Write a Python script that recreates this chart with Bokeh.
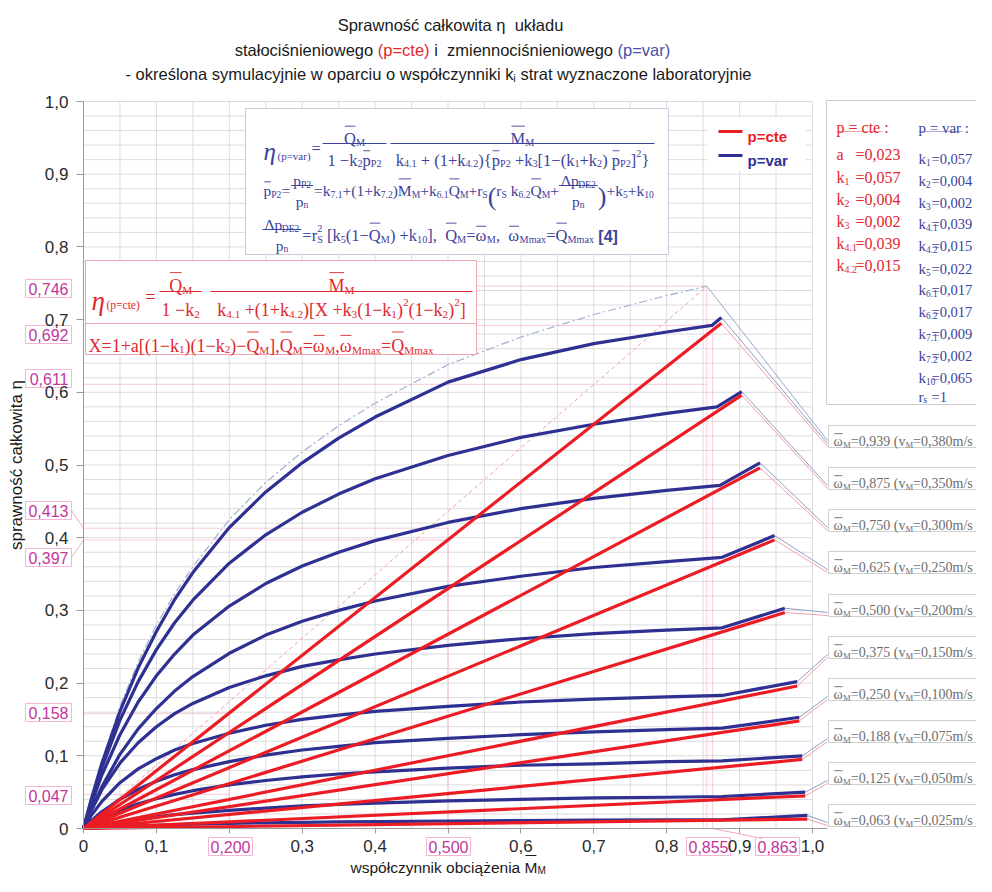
from bokeh.plotting import figure
from bokeh.models import ColumnDataSource, FixedTicker, Range1d
from bokeh.core.properties import value
from bokeh.embed import file_html
from bokeh.resources import INLINE

# ---------------- values ----------------
M_GRID = [0.0, 0.01, 0.025, 0.05, 0.075, 0.10, 0.125, 0.15, 0.20, 0.25, 0.30, 0.35, 0.40, 0.50, 0.60, 0.70, 0.80]

OMEGA_LABELS = ["0,939", "0,875", "0,750", "0,625", "0,500", "0,375", "0,250", "0,188", "0,125", "0,063"]
VM_LABELS = ["0,380", "0,350", "0,300", "0,250", "0,200", "0,150", "0,100", "0,075", "0,050", "0,025"]

# p=var efficiency at M_GRID, one list per omega
ETA_VAR_0939 = [0, 0.038, 0.089, 0.161, 0.221, 0.271, 0.315, 0.352, 0.414, 0.463, 0.503, 0.537, 0.566, 0.614, 0.645, 0.667, 0.683]
ETA_VAR_0875 = [0, 0.036, 0.083, 0.149, 0.202, 0.246, 0.283, 0.314, 0.365, 0.404, 0.435, 0.460, 0.481, 0.513, 0.538, 0.556, 0.571]
ETA_VAR_0750 = [0, 0.032, 0.073, 0.129, 0.174, 0.210, 0.240, 0.266, 0.306, 0.337, 0.361, 0.380, 0.396, 0.421, 0.440, 0.454, 0.465]
ETA_VAR_0625 = [0, 0.025, 0.057, 0.102, 0.137, 0.165, 0.189, 0.209, 0.241, 0.266, 0.285, 0.300, 0.313, 0.333, 0.347, 0.359, 0.367]
ETA_VAR_0500 = [0, 0.023, 0.053, 0.090, 0.118, 0.140, 0.158, 0.172, 0.194, 0.210, 0.223, 0.232, 0.240, 0.252, 0.261, 0.268, 0.273]
ETA_VAR_0375 = [0, 0.017, 0.037, 0.063, 0.082, 0.096, 0.108, 0.117, 0.131, 0.142, 0.150, 0.156, 0.161, 0.168, 0.174, 0.178, 0.181]
ETA_VAR_0250 = [0, 0.010, 0.023, 0.040, 0.054, 0.065, 0.074, 0.081, 0.092, 0.101, 0.108, 0.113, 0.118, 0.124, 0.129, 0.133, 0.136]
ETA_VAR_0188 = [0, 0.006, 0.014, 0.025, 0.034, 0.041, 0.047, 0.052, 0.060, 0.066, 0.071, 0.075, 0.078, 0.083, 0.087, 0.089, 0.092]
ETA_VAR_0125 = [0, 0.002, 0.005, 0.009, 0.013, 0.016, 0.019, 0.021, 0.025, 0.028, 0.031, 0.033, 0.035, 0.038, 0.040, 0.042, 0.043]
ETA_VAR_0063 = [0, 0.0005, 0.0013, 0.0025, 0.0035, 0.0045, 0.0052, 0.006, 0.007, 0.0078, 0.0085, 0.009, 0.0095, 0.0103, 0.0109, 0.0114, 0.0118]
ETA_VAR = [ETA_VAR_0939, ETA_VAR_0875, ETA_VAR_0750, ETA_VAR_0625, ETA_VAR_0500,
           ETA_VAR_0375, ETA_VAR_0250, ETA_VAR_0188, ETA_VAR_0125, ETA_VAR_0063]

KINK_M = [0.862, 0.869, 0.873, 0.876, 0.876, 0.876, 0.876, 0.876, 0.876, 0.876]
KINK_ETA_VAR = [0.692, 0.580, 0.472, 0.373, 0.276, 0.183, 0.138, 0.093, 0.044, 0.012]
END_M = [0.875, 0.903, 0.928, 0.948, 0.962, 0.979, 0.982, 0.986, 0.990, 0.993]
END_ETA_VAR = [0.703, 0.601, 0.503, 0.403, 0.303, 0.202, 0.153, 0.100, 0.050, 0.018]
END_ETA_CTE = [0.695, 0.596, 0.496, 0.397, 0.297, 0.196, 0.148, 0.095, 0.045, 0.013]

ENVELOPE_M = M_GRID + [0.855]
ENVELOPE_ETA = [0, 0.040, 0.093, 0.168, 0.229, 0.280, 0.323, 0.360, 0.425, 0.476, 0.518, 0.554, 0.585, 0.638, 0.676, 0.707, 0.733, 0.746]

MARK_Y_VALUES = [0.746, 0.692, 0.611, 0.413, 0.397, 0.158, 0.047]
MARK_Y_LABELS = ["0,746", "0,692", "0,611", "0,413", "0,397", "0,158", "0,047"]
MARK_X_VALUES = [0.200, 0.500, 0.855, 0.863]
MARK_X_LABELS = ["0,200", "0,500", "0,855", "0,863"]

X_TICKS = [0.0, 0.1, 0.2, 0.3, 0.4, 0.5, 0.6, 0.7, 0.8, 0.9, 1.0]
X_TICK_LABELS = ["0", "0,1", "", "0,3", "0,4", "", "0,6", "0,7", "0,8", "0,9", "1,0"]
Y_TICKS = [0.0, 0.1, 0.2, 0.3, 0.4, 0.5, 0.6, 0.7, 0.8, 0.9, 1.0]
Y_TICK_LABELS = ["0", "0,1", "0,2", "0,3", "0,4", "0,5", "0,6", "0,7", "0,8", "0,9", "1,0"]

CTE_NAMES = ["a", "k_{1}", "k_{2}", "k_{3}", "k_{4.1}", "k_{4.2}"]
CTE_VALUES = ["=0,023", "=0,057", "=0,004", "=0,002", "=0,039", "=0,015"]
VAR_NAMES = ["k_{1}", "k_{2}", "k_{3}", "k_{4.1}", "k_{4.2}", "k_{5}", "k_{6.1}", "k_{6.2}",
             "k_{7.1}", "k_{7.2}", "k_{10}", "r_{s}"]
VAR_VALUES = ["=0,057", "=0,004", "=0,002", "=0,039", "=0,015", "=0,022", "=0,017", "=0,017",
              "=0,009", "=0,002", "=0,065", "=1"]

# ---------------- layout helpers (picture pixels -> data) ----------------
X0, Y0, SX, SY = 83.0, 828.0, 729.0, 727.0
W, H = 976, 876


def DX(px):
    return (px - X0) / SX


def DY(py):
    return (Y0 - py) / SY


SERIF = "Liberation Serif"
SANS = "Liberation Sans"
BLUE = "#2e3192"
RED = "#ec1c24"
BLUE_F = "#3b4299"
RED_F = "#e0282e"
PINK = "#c2379a"
GREY_T = "#6e6e6e"
INK = "#1a1a1a"

TNR = {" ": 250, "(": 333, ")": 333, "[": 333, "]": 333, "{": 480, "}": 480, "+": 564, "=": 564,
       "\u2212": 564, "-": 333, ",": 250, ".": 250, ":": 278, "/": 278, "\u0394": 612,
       "\u03b7": 500, "\u03c9": 686}
for ch in "0123456789":
    TNR[ch] = 500
for ch, w in zip("abcdefghijklmnopqrstuvwxyz",
                 [444, 500, 444, 500, 444, 333, 500, 500, 278, 278, 500, 278, 778, 500, 500, 500, 500,
                  333, 389, 278, 500, 500, 722, 500, 500, 444]):
    TNR[ch] = w
for ch, w in zip("ABCDEFGHIJKLMNOPQRSTUVWXYZ",
                 [722, 667, 667, 722, 611, 556, 722, 722, 333, 389, 722, 611, 889, 722, 722, 556, 722,
                  667, 556, 611, 722, 722, 944, 722, 722, 611]):
    TNR[ch] = w

ARIAL = {" ": 278, "(": 333, ")": 333, "=": 584, "-": 333, ",": 278, "\u03b7": 556,
         "ą": 556, "ć": 500, "ę": 556, "ł": 222, "ń": 556, "ó": 556, "ś": 500, "ż": 500, "S": 667, "M": 833}
for ch in "0123456789":
    ARIAL[ch] = 556
for ch, w in zip("abcdefghijklmnopqrstuvwxyz",
                 [556, 556, 500, 556, 556, 278, 556, 556, 222, 222, 500, 222, 833, 556, 556, 556, 556,
                  333, 500, 278, 556, 500, 722, 500, 500, 500]):
    ARIAL[ch] = w


def tw(s, fs, table=TNR):
    return sum(table.get(ch, 500) for ch in s) * fs / 1000.0


TXT = []
LNS = []


def add_text(px, py, s, fs, col, font=SERIF, style="normal", align="left", base="alphabetic"):
    # SVG drops leading/trailing blanks and merges runs of blanks: keep the spacing explicitly
    if align == "left":
        core = s.lstrip(" ")
        lead = len(s) - len(core)
        px += lead * (278 if font == SANS else 250) * fs / 1000.0
        s = core
    s = s.strip(" ").replace("  ", " \u00a0")
    if not s:
        return
    TXT.append((DX(px), DY(py), s, "%.1fpx" % fs, col, font, style, align, base))


def add_line(px0, py0, px1, py1, col, lw=1.0):
    LNS.append((DX(px0), DY(py0), DX(px1), DY(py1), col, lw))


def parse(m):
    segs, buf, i = [], "", 0
    kinds = {"_": "s", "^": "p", "#": "o"}
    while i < len(m):
        c = m[i]
        if c in kinds and i + 1 < len(m) and m[i + 1] == "{":
            if buf:
                segs.append((buf, "n"))
                buf = ""
            j = m.index("}", i + 2)
            segs.append((m[i + 2:j], kinds[c]))
            i = j + 1
        else:
            buf += c
            i += 1
    if buf:
        segs.append((buf, "n"))
    return segs


def layout(markup, size):
    items, x, prev = [], 0.0, None
    for t, k in parse(markup):
        fs = size * 0.62 if k in "sp" else size
        w = tw(t, fs)
        if k == "p" and prev is not None and prev[0] == "s":
            xs, ws = prev[1], prev[2]
            items.append((t, k, xs, fs, w))
            x = xs + max(w, ws)
        else:
            items.append((t, k, x, fs, w))
            x += w
        prev = (k, items[-1][2], w)
    return items, x


def rich(px, py, markup, size, col, align="left", style="normal"):
    items, total = layout(markup, size)
    off = px - total / 2.0 if align == "center" else px
    for t, k, xx, fs, w in items:
        if k == "s":
            yy = py + size * 0.24
        elif k == "p":
            yy = py - size * 0.42
        else:
            yy = py
        add_text(off + xx, yy, t, fs, col, style=style)
        if k == "o":
            hgt = 0.56 if t.islower() else 0.75
            add_line(off + xx + 0.8, py - size * hgt, off + xx + w - 0.5, py - size * hgt, col, 0.9)
    return total


def frac(xl, bar_py, num, den, size, col, width=None, dn=1.0):
    wn = layout(num, size)[1]
    wd = layout(den, size)[1]
    w = width if width else max(wn, wd) + 4
    cx = xl + w / 2.0
    add_line(xl, bar_py, xl + w, bar_py, col, 1.0)
    rich(cx, bar_py - size * 0.3, num, size, col, align="center")
    rich(cx, bar_py + size * dn, den, size, col, align="center")
    return w


# ---------------- figure: the frame fills the whole canvas ----------------
p = figure(width=W, height=H, x_range=Range1d(DX(0), DX(W)), y_range=Range1d(DY(H), DY(0)),
           output_backend="svg", toolbar_location=None,
           min_border_left=0, min_border_right=0, min_border_top=0, min_border_bottom=0)
p.outline_line_color = None
p.background_fill_color = "white"
p.border_fill_color = "white"
p.xgrid.grid_line_color = None
p.ygrid.grid_line_color = None

for ax, ticks, labels in ((p.xaxis[0], X_TICKS, X_TICK_LABELS), (p.yaxis[0], Y_TICKS, Y_TICK_LABELS)):
    ax.fixed_location = 0
    ax.ticker = FixedTicker(ticks=ticks, minor_ticks=[])
    ax.major_label_overrides = {t: l for t, l in zip(ticks, labels)}
    ax.axis_line_color = "#9a9a9a"
    ax.major_tick_line_color = "#9a9a9a"
    ax.minor_tick_line_color = None
    ax.major_label_text_font = SANS
    ax.major_label_text_font_size = "17px"
    ax.major_label_text_color = "#2a2a2a"
    ax.major_tick_in = 0
p.xaxis[0].bounds = (0, 1.02)
p.yaxis[0].bounds = (0, 1.0)
p.xaxis[0].major_tick_out = 5
p.xaxis[0].major_label_standoff = 6
p.yaxis[0].major_tick_out = 7
p.yaxis[0].major_label_standoff = 8
p.yaxis[0].axis_label = "sprawność całkowita η"
p.yaxis[0].axis_label_text_font = SANS
p.yaxis[0].axis_label_text_font_size = "17px"
p.yaxis[0].axis_label_text_font_style = "normal"
p.yaxis[0].axis_label_text_color = INK
p.yaxis[0].axis_label_standoff = 16

# grid
gx0, gy0, gx1, gy1 = [], [], [], []
for k in range(1, 21):
    gx0.append(k * 0.05); gx1.append(k * 0.05); gy0.append(0); gy1.append(1.0)
for k in range(1, 51):
    gx0.append(0); gx1.append(1.0); gy0.append(k * 0.02); gy1.append(k * 0.02)
p.segment(gx0, gy0, gx1, gy1, line_color="#dcdcdc", line_width=1)

# pink reference lines
mx, my = MARK_X_VALUES, MARK_Y_VALUES
rx0 = [0, mx[2], 0, mx[3], 0, 0, 0, mx[1], 0, 0, mx[0]]
ry0 = [my[0], 0, my[1], 0, my[2], my[3], my[4], 0, my[5], my[6], 0]
rx1 = [mx[2], mx[2], mx[3], mx[3], mx[2], mx[1], mx[1], mx[1], mx[0], mx[0], mx[0]]
ry1 = [my[0], my[0], my[1], my[1], my[2], my[3], my[4], my[3], my[5], my[6], my[5]]
p.segment(rx0, ry0, rx1, ry1, line_color="#f1a9c3", line_width=1, line_alpha=0.6)

# envelope and diagonal to the optimum
p.line(ENVELOPE_M, ENVELOPE_ETA, line_color="#9fb0d2", line_width=1.2, line_dash="8 3 2 3")
p.line([0, mx[2]], [0, my[0]], line_color="#f2a0b4", line_width=1, line_dash="4 3")


def box(l, t, r, b, line, fill="white"):
    p.quad(left=DX(l), right=DX(r), top=DY(t), bottom=DY(b), fill_color=fill, line_color=line, line_width=1)


box(245, 108, 668, 254, "#c9cbdc")       # p=var formula
box(85, 260, 476, 354, "#f3a5ad")        # p=cte formula
add_line(85, 323, 476, 323, "#f3a5ad", 1.0)
box(707, 117, 805, 170, None)            # legend
box(826, 100, 1000, 404, "#cccccc")      # coefficient panel

# curves
for i in range(len(ETA_VAR)):
    p.line(M_GRID + [KINK_M[i], END_M[i]], ETA_VAR[i] + [KINK_ETA_VAR[i], END_ETA_VAR[i]],
           line_color=BLUE, line_width=3.2, line_join="round")
for i in range(len(ETA_VAR)):
    p.line([0, END_M[i]], [0, END_ETA_CTE[i]], line_color=RED, line_width=3.2)

# leader lines to the omega boxes
BOX_CY = [436, 478, 520, 562, 605, 647, 689, 731, 773, 815]
lx0, ly0, lx1, ly1, lc = [], [], [], [], []
for i in range(len(BOX_CY)):
    lx0 += [END_M[i], END_M[i]]
    ly0 += [END_ETA_VAR[i], END_ETA_CTE[i]]
    lx1 += [DX(827), DX(827)]
    ly1 += [DY(BOX_CY[i] + 7), DY(BOX_CY[i] + 10)]
    lc += ["#8f9fc9", "#f0a0ae"]
lx0.append(mx[2]); ly0.append(my[0]); lx1.append(DX(827)); ly1.append(DY(BOX_CY[0] + 4)); lc.append("#9aa6c8")
p.segment(lx0, ly0, lx1, ly1, line_color=lc, line_width=1)

for i in range(len(BOX_CY)):
    box(828, BOX_CY[i] - 11, 1000, BOX_CY[i] + 11, "#cfcfcf")
    rich(833, BOX_CY[i] + 5, "#{\u03c9}_{M}=" + OMEGA_LABELS[i] + " (v_{M}=" + VM_LABELS[i] + "m/s",
         14, GREY_T)

# legend
add_line(718, 131, 742, 131, RED, 3)
add_line(718, 155, 742, 155, BLUE, 3)
add_text(747, 136, "p=cte", 15, RED, font=SANS, style="bold")
add_text(747, 160, "p=var", 15, BLUE, font=SANS, style="bold")

# ---- p=var formula ----
add_text(263, 151, "\u03b7", 25, BLUE_F, style="italic")
add_text(277, 155, "(p=var)", 11, BLUE_F)
add_text(311, 148, "=", 16.5, BLUE_F)
frac(322, 143, "#{Q}_{M}", "1 \u2212k_{2}#{p}_{P2}", 16.5, BLUE_F, width=64)
frac(390, 143, "#{M}_{M}",
     "k_{4.1} + (1+k_{4.2}){#{p}_{P2} +k_{3}[1\u2212(k_{1}+k_{2}) #{p}_{P2}]^{2}}", 16.5, BLUE_F, width=264)

x = 263
x += rich(x, 190, "#{p}_{P2}=", 15.5, BLUE_F) + 1
x += frac(x, 185, "p_{P2}", "p_{n}", 15.5, BLUE_F) + 1
x += rich(x, 190, "=k_{7.1}+(1+k_{7.2})#{M}_{M}+k_{6.1}#{Q}_{M}+r_{S}", 15.5, BLUE_F)
add_text(x, 196, "(", 26, BLUE_F)
x += tw("(", 26)
x += rich(x, 190, "r_{S} k_{6.2}#{Q}_{M}+", 15.5, BLUE_F)
x += frac(x, 185, "\u0394p_{DE2}", "p_{n}", 15.5, BLUE_F)
add_text(x, 196, ")", 26, BLUE_F)
x += tw(")", 26)
rich(x, 190, "+k_{5}+k_{10}", 15.5, BLUE_F)

x = 262
x += frac(x, 229, "\u0394p_{DE2}", "p_{n}", 15.5, BLUE_F) + 1
x += rich(x, 235, "=r_{S}^{2} [k_{5}(1\u2212#{Q}_{M}) +k_{10}],  #{Q}_{M}=#{\u03c9}_{M},  #{\u03c9}_{Mmax}=#{Q}_{Mmax} ",
          16.5, BLUE_F)
add_text(x, 236, "[4]", 16, BLUE_F, font=SANS, style="bold")

# ---- p=cte formula ----
add_text(91, 300, "\u03b7", 27, RED_F, style="italic")
add_text(106, 304, "(p=cte)", 11.5, RED_F)
add_text(145, 296, "=", 18, RED_F)
frac(159, 291, "#{Q}_{M}", "1 \u2212k_{2}", 18, RED_F, dn=1.05)
frac(210, 291, "#{M}_{M}",
     "k_{4.1} +(1+k_{4.2})[X +k_{3}(1\u2212k_{1})^{2}(1\u2212k_{2})^{2}]", 18, RED_F, width=262, dn=1.05)
rich(88, 345, "X=1+a[(1\u2212k_{1})(1\u2212k_{2})\u2212#{Q}_{M}],#{Q}_{M}=#{\u03c9}_{M},#{\u03c9}_{Mmax}=#{Q}_{Mmax}",
     18, RED_F)

# ---- coefficient panel ----
add_text(836, 127, "p = cte :", 16, RED_F)
add_text(918, 127, "p = var :", 15, BLUE_F)
add_line(836, 131, 882, 131, "#f0a0a8", 1)
add_line(918, 131, 962, 131, "#a8b0d8", 1)
CTE_BASE = [154, 177, 199, 221, 243, 265]
VAR_BASE = [158, 180, 202, 223, 245, 268, 289, 311, 333, 355, 377, 396]
for nm, vl, yb in zip(CTE_NAMES, CTE_VALUES, CTE_BASE):
    rich(836, yb, nm, 16, RED_F)
    rich(855, yb, vl, 16, RED_F)
for nm, vl, yb in zip(VAR_NAMES, VAR_VALUES, VAR_BASE):
    rich(918, yb, nm, 15, BLUE_F)
    rich(931, yb, vl, 14.5, BLUE_F)

# ---- title ----
add_text(450, 24, "Sprawność całkowita \u03b7  układu", 16.5, INK, font=SANS, align="center")
parts2 = [("stałociśnieniowego ", INK), ("(p=cte)", "#e0282e"), (" i  zmiennociśnieniowego ", INK),
          ("(p=var)", "#4a50a8")]
tot = sum(tw(s, 16.5, ARIAL) for s, c in parts2)
x = 452 - tot / 2
for s, c in parts2:
    add_text(x, 49, s, 16.5, c, font=SANS)
    x += tw(s, 16.5, ARIAL)
l3a = "- określona symulacyjnie w oparciu o współczynniki k"
l3b = " strat wyznaczone laboratoryjnie"
tot = tw(l3a, 16.5, ARIAL) + tw("i", 11, ARIAL) + tw(l3b, 16.5, ARIAL)
x = 438 - tot / 2
add_text(x, 73, l3a, 16.5, INK, font=SANS)
x += tw(l3a, 16.5, ARIAL)
add_text(x, 77, "i", 11, INK, font=SANS)
x += tw("i", 11, ARIAL)
add_text(x, 73, l3b, 16.5, INK, font=SANS)

# ---- x axis title ----
xa = "współczynnik obciążenia"
XA_SIZE = 15.5
add_text(350, 867, xa, XA_SIZE, INK, font=SANS)
xm = 350 + tw(xa + " ", XA_SIZE, ARIAL)
add_text(xm, 867, "M", XA_SIZE, INK, font=SANS)
add_line(xm + 1, 855, xm + tw("M", XA_SIZE, ARIAL) - 1, 855, INK, 1)
add_text(xm + tw("M", XA_SIZE, ARIAL), 870, "M", 10, INK, font=SANS)

# ---- pink value marks on the axes ----
MARK_Y_PY = [288, 334, 378, 510, 557, 712, 795]
for t, py in zip(MARK_Y_LABELS, MARK_Y_PY):
    w = tw(t, 16, ARIAL)
    box(68 - w - 3, py - 9, 71, py + 9, "#f2b6d8")
    add_text(68, py, t, 16, PINK, font=SANS, align="right", base="middle")
add_line(71, 510, 83, 828 - my[3] * SY, "#f1a9c3", 1)
add_line(71, 557, 83, 828 - my[4] * SY, "#f1a9c3", 1)
MARK_X_PX = [230, 448, 708, 777]
for t, px in zip(MARK_X_LABELS, MARK_X_PX):
    w = tw(t, 16, ARIAL)
    box(px - w / 2 - 2, 837, px + w / 2 + 2, 855, "#f2b6d8")
    add_text(px, 846, t, 16, PINK, font=SANS, align="center", base="middle")
add_line(83 + mx[3] * SX, 828, 762, 838, "#f1a9c3", 1)

# ---- render collected text and strokes ----
lsrc = ColumnDataSource(dict(x0=[l[0] for l in LNS], y0=[l[1] for l in LNS], x1=[l[2] for l in LNS],
                             y1=[l[3] for l in LNS], col=[l[4] for l in LNS], lw=[l[5] for l in LNS]))
p.segment(x0="x0", y0="y0", x1="x1", y1="y1", source=lsrc, line_color="col", line_width="lw")
groups = {}
for t in TXT:
    groups.setdefault(t[5:9], []).append(t)
for (font, style, align, base), rows in groups.items():
    src = ColumnDataSource(dict(x=[r[0] for r in rows], y=[r[1] for r in rows], txt=[r[2] for r in rows],
                                fsz=[r[3] for r in rows], col=[r[4] for r in rows]))
    p.text(x="x", y="y", text="txt", source=src, text_font=value(font), text_font_style=style,
           text_align=align, text_baseline=base, text_font_size="fsz", text_color="col")

open("out.html", "w").write(file_html(p, INLINE))
